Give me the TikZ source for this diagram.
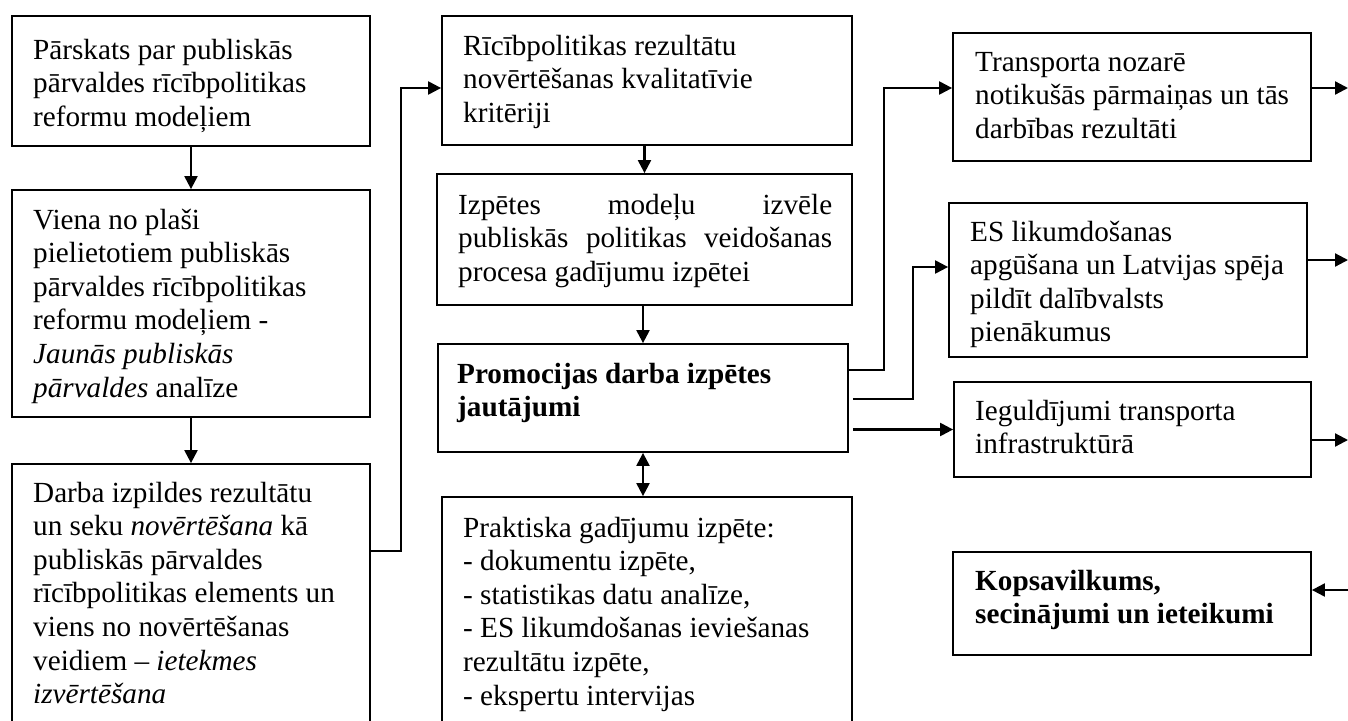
\documentclass[tikz,border=0pt]{standalone}
\usepackage{fontspec}
\setmainfont{Liberation Serif}
\usetikzlibrary{arrows.meta,fit,calc}
\tikzset{
  box/.style={draw, line width=1.8pt, inner sep=0pt},
  txt/.style={inner sep=0pt, anchor=base west, font=\fontsize{29.2}{33.6}\selectfont},
  conn/.style={line width=2.2pt},
  arr/.style={conn, -{Triangle[length=13pt,width=13pt]}},
  darr/.style={conn, {Triangle[length=13pt,width=13pt]}-{Triangle[length=13pt,width=13pt]}},
}
\newcommand\tbox[2]{\parbox[t]{#1pt}{\raggedright #2}}
\begin{document}
\begin{tikzpicture}[x=1pt,y=-1pt]
\useasboundingbox (0,0) rectangle (1348,720);
\clip (0,0) rectangle (1348,720);
% boxes
\node[box, fit={(12,16) (370,146)}] (b1) {};
\node[box, fit={(12,190) (370,417)}] (b2) {};
\node[box, fit={(12,464) (370,730)}] (b3) {};
\node[box, fit={(442,16) (852,145)}] (m1) {};
\node[box, fit={(437,174) (852,305)}] (m2) {};
\node[box, fit={(438,344) (848,452)}] (m3) {};
\node[box, fit={(442,497) (852,730)}] (pr) {};
\node[box, fit={(953,33) (1311,161)}] (tr) {};
\node[box, fit={(949,203) (1307,357)}] (es) {};
\node[box, fit={(954,382) (1311,477)}] (ig) {};
\node[box, fit={(953,552) (1311,655)}] (ks) {};
% texts
\node[txt] (t1) at (33,59) {\tbox{340}{Pārskats par publiskās\\pārvaldes rīcībpolitikas\\reformu modeļiem}};
\node[txt] (t2) at (33,229) {\tbox{340}{Viena no plaši\\pielietotiem publiskās\\pārvaldes rīcībpolitikas\\reformu modeļiem -\\\textit{Jaunās publiskās}\\\textit{pārvaldes} analīze}};
\node[txt] (t3) at (33,502) {\tbox{340}{Darba izpildes rezultātu\\un seku \textit{novērtēšana} kā\\publiskās pārvaldes\\rīcībpolitikas elements un\\viens no novērtēšanas\\veidiem – \textit{ietekmes}\\\textit{izvērtēšana}}};
\node[txt] (t4) at (463,55) {\tbox{385}{Rīcībpolitikas rezultātu\\novērtēšanas kvalitatīvie\\kritēriji}};
\node[txt] (t5) at (458,214) {\parbox[t]{374pt}{Izpētes\hfill modeļu\hfill izvēle\\publiskās\hfill politikas\hfill veidošanas\\procesa gadījumu izpētei\hfill\null}};
\node[txt] (t6) at (457,383) {\tbox{385}{\bfseries Promocijas darba izpētes\\jautājumi}};
\node[txt] (t7) at (463,537) {\tbox{385}{Praktiska gadījumu izpēte:\\- dokumentu izpēte,\\- statistikas datu analīze,\\- ES likumdošanas ieviešanas\\rezultātu izpēte,\\- ekspertu intervijas}};
\node[txt] (t8) at (975,71) {\tbox{340}{Transporta nozarē\\notikušās pārmaiņas un tās\\darbības rezultāti}};
\node[txt] (t9) at (970,241) {\tbox{340}{ES likumdošanas\\apgūšana un Latvijas spēja\\pildīt dalībvalsts\\pienākumus}};
\node[txt] (t10) at (975,420) {\tbox{340}{Ieguldījumi transporta\\infrastruktūrā}};
\node[txt] (t11) at (975,590) {\tbox{340}{\bfseries Kopsavilkums,\\secinājumi un ieteikumi}};
% connectors
\draw[arr] (b1.south) -- (b2.north);
\draw[arr] (b2.south) -- (b3.north);
\draw[arr] ($(b3.north east)+(0,88)$) -- ++(30,0) |- ($(m1.west)+(0,7.5)$);
\draw[arr] (m2.north |- m1.south) -- (m2.north);
\draw[arr] (m3.north |- m2.south) -- (m3.north);
\draw[darr] (m3.south) -- (m3.south |- pr.north);
\draw[arr] ($(m3.north east)+(0,27)$) -- ++(35,0) |- ($(tr.west)+(0,-9)$);
\draw[arr] ($(m3.north east)+(4,56)$) -- ++(60,0) |- ($(es.west)+(0,-13)$);
\draw[arr] ([xshift=4pt]ig.west -| m3.east) -- (ig.west);
\coordinate (e1) at (1348,88);
\coordinate (e2) at (1348,260);
\coordinate (e3) at (1348,440);
\coordinate (e4) at (1348,590);
\draw[arr] (tr.east |- e1) -- (e1);
\draw[arr] (es.east |- e2) -- (e2);
\draw[arr] (ig.east |- e3) -- (e3);
\draw[arr] (e4) -- (ks.east |- e4);
\end{tikzpicture}
\end{document}
